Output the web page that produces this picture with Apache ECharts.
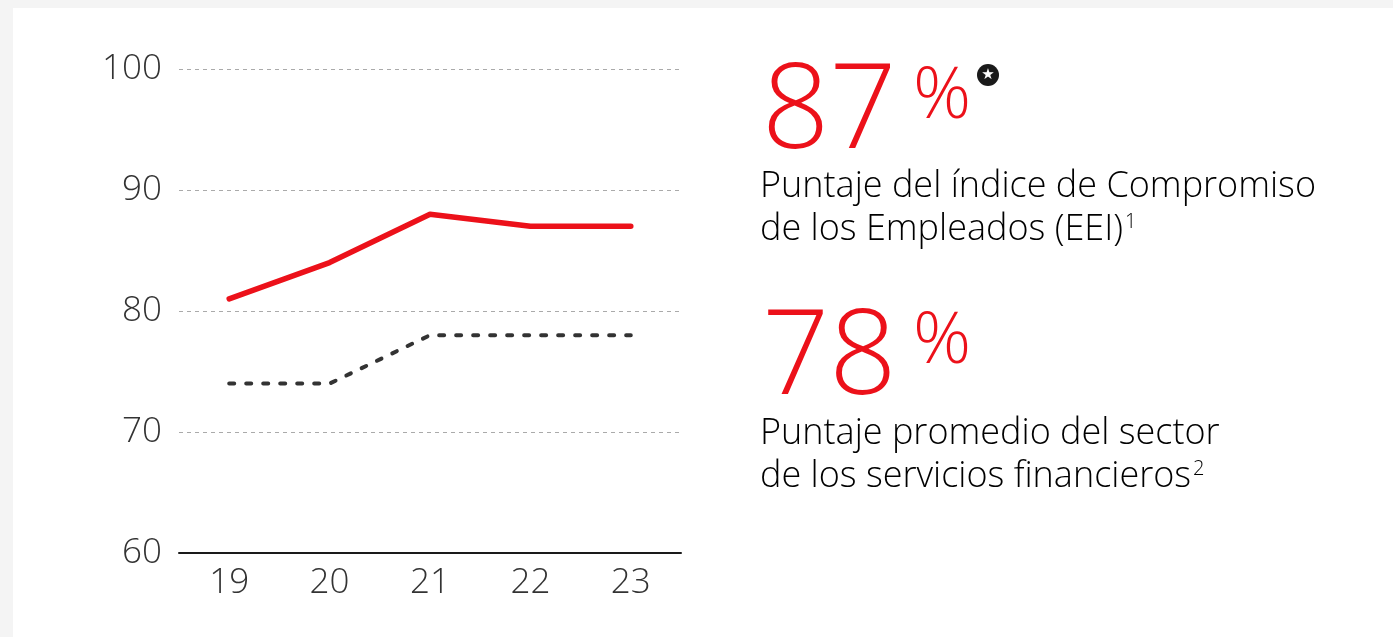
<!DOCTYPE html>
<html>
<head>
<meta charset="utf-8">
<script src="https://cdn.jsdelivr.net/npm/echarts@6/dist/echarts.min.js"></script>
<style>
html,body{margin:0;padding:0;background:#f4f4f4;}
#panel{position:absolute;left:13px;top:8px;width:1380px;height:629px;background:#fff;}
#chart{position:absolute;left:0;top:0;width:1393px;height:637px;}
</style>
</head>
<body>
<div id="panel"></div>
<div id="chart"></div>
<script>
const categories = ['19', '20', '21', '22', '23'];
const eeiScores = [81, 84, 88, 87, 87];
const sectorScores = [74, 74, 78, 78, 78];
const yTicks = { min: 60, max: 100, interval: 10 };
const headline1 = '87';
const headline2 = '78';
const caption1 = ['Puntaje del índice de Compromiso', 'de los Empleados (EEI)', '1'];
const caption2 = ['Puntaje promedio del sector', 'de los servicios financieros', '2'];

const FONT = "'Open Sans', sans-serif";
const RED = '#ec111a';
const TXT = '#333333';

const chart = echarts.init(document.getElementById('chart'), null, { renderer: 'canvas' });

const captionRich = {
  m: { fontSize: 36, fontWeight: 300, fontFamily: FONT, color: TXT, lineHeight: 43 },
  sup: { fontSize: 20, fontWeight: 300, fontFamily: FONT, color: TXT, lineHeight: 43, padding: [0, 0, 16, 2] }
};

chart.setOption({
  backgroundColor: 'transparent',
  animation: false,
  grid: { left: 179, right: 712, top: 69, bottom: 84 },
  xAxis: {
    type: 'category',
    data: categories,
    boundaryGap: true,
    axisLine: { show: true, lineStyle: { color: '#1a1a1a', width: 2 } },
    axisTick: { show: false },
    axisLabel: { fontSize: 35, fontFamily: FONT, fontWeight: 300, color: TXT, margin: 13 },
    splitLine: { show: false }
  },
  yAxis: {
    type: 'value',
    min: yTicks.min,
    max: yTicks.max,
    interval: yTicks.interval,
    axisLine: { show: false },
    axisTick: { show: false },
    axisLabel: { fontSize: 35, fontFamily: FONT, fontWeight: 300, color: TXT, margin: 17 },
    splitLine: { show: true, lineStyle: { color: '#aaaaaa', type: [4, 4], width: 1 } }
  },
  series: [
    {
      type: 'line',
      data: eeiScores,
      symbol: 'none',
      lineStyle: { color: RED, width: 5.5, cap: 'round', join: 'round' },
      z: 3
    },
    {
      type: 'line',
      data: sectorScores,
      symbol: 'none',
      lineStyle: { color: '#333333', width: 4, type: [5, 12], cap: 'round', join: 'round' },
      z: 2
    }
  ],
  graphic: [
    { type: 'text', left: 762, top: 55, style: { text: headline1, fontSize: 118, fontWeight: 300, fontFamily: FONT, fill: RED } },
    { type: 'text', left: 913, top: 61, style: { text: '%', fontSize: 72, fontWeight: 300, fontFamily: FONT, fill: RED } },
    { type: 'circle', shape: { cx: 988, cy: 75, r: 11 }, style: { fill: '#1a1a1a' } },
    { type: 'text', x: 988, y: 75, style: { text: '★', fontSize: 15, fontFamily: 'DejaVu Sans', fill: '#fff', align: 'center', verticalAlign: 'middle' } },
    { type: 'text', left: 760, top: 169, style: { text: '{m|' + caption1[0] + '}\n{m|' + caption1[1] + '}{sup|' + caption1[2] + '}', rich: captionRich } },
    { type: 'text', left: 762, top: 301, style: { text: headline2, fontSize: 118, fontWeight: 300, fontFamily: FONT, fill: RED } },
    { type: 'text', left: 913, top: 306, style: { text: '%', fontSize: 72, fontWeight: 300, fontFamily: FONT, fill: RED } },
    { type: 'text', left: 760, top: 416, style: { text: '{m|' + caption2[0] + '}\n{m|' + caption2[1] + '}{sup|' + caption2[2] + '}', rich: captionRich } }
  ]
});
</script>
</body>
</html>
